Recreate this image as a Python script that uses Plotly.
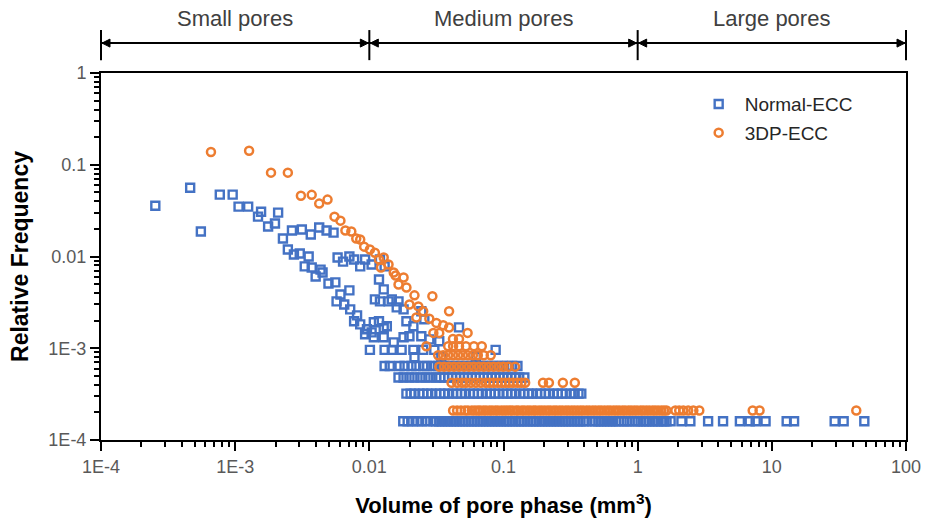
import numpy as np
import plotly.graph_objects as go

# ---------------- data ----------------
x_tick_vals = [1e-4, 1e-3, 1e-2, 1e-1, 1, 10, 100]
x_tick_text = ["1E-4", "1E-3", "0.01", "0.1", "1", "10", "100"]
y_tick_vals = [1e-4, 1e-3, 1e-2, 1e-1, 1]
y_tick_text = ["1E-4", "1E-3", "0.01", "0.1", "1"]

pore_class_names = ["Small pores", "Medium pores", "Large pores"]
pore_class_bounds = [1e-4, 1e-2, 1, 100]

# Normal-ECC, scattered points (volume mm^3, relative frequency)
normal_vol_scatter = [2.54e-4, 4.62e-4, 5.55e-4, 7.68e-4, 9.58e-4, 1.06e-3, 1.25e-3, 1.48e-3, 1.56e-3, 1.76e-3,
                      1.98e-3, 2.09e-3, 2.27e-3, 2.65e-3, 3.14e-3, 3.66e-3, 4.23e-3, 4.80e-3, 5.41e-3, 2.47e-3,
                      2.74e-3, 3.03e-3, 3.53e-3, 3.30e-3, 3.72e-3, 4.33e-3, 3.98e-3, 4.48e-3, 4.96e-3, 5.58e-3,
                      6.09e-3, 7.10e-3, 5.70e-3, 6.50e-3, 7.20e-3, 8.10e-3, 7.70e-3, 8.55e-3, 9.60e-3, 9.30e-3,
                      1.04e-2, 1.08e-2, 1.18e-2, 1.28e-2, 1.08e-2, 1.28e-2, 1.52e-2, 1.80e-2,
                      5.80e-3, 6.37e-3, 7.10e-3, 7.70e-3, 8.55e-3, 9.30e-3, 1.04e-2, 1.20e-2, 1.30e-2, 1.18e-2,
                      1.28e-2, 1.10e-2, 1.20e-2, 1.39e-2, 1.47e-2, 1.65e-2, 1.60e-2, 1.80e-2, 1.89e-2, 2.13e-2,
                      2.44e-2, 2.57e-2, 1.99e-2, 2.44e-2, 2.80e-2, 3.32e-2, 4.66e-2, 1.35e-2]
normal_freq_scatter = [0.0358, 0.0562, 0.0187, 0.0472, 0.0472, 0.035, 0.035, 0.0272, 0.0308, 0.0212,
                       0.0229, 0.0301, 0.0157, 0.0192, 0.0197, 0.0174, 0.0207, 0.0192, 0.0182, 0.0119,
                       0.0105, 0.0108, 0.0100, 7.8e-3, 7.6e-3, 7.2e-3, 6.06e-3, 6.7e-3, 5.08e-3, 5.22e-3,
                       3.86e-3, 4.27e-3, 3.24e-3, 3.0e-3, 2.65e-3, 2.28e-3, 1.97e-3, 1.82e-3, 1.61e-3, 1.42e-3,
                       1.49e-3, 1.92e-3, 1.97e-3, 1.65e-3, 1.32e-3, 1.32e-3, 1.16e-3, 1.32e-3,
                       9.77e-3, 8.8e-3, 1.0e-2, 9.28e-3, 7.8e-3, 9.28e-3, 8.19e-3, 9.28e-3, 7.8e-3, 5.62e-3,
                       4.38e-3, 3.41e-3, 3.24e-3, 3.24e-3, 3.41e-3, 3.24e-3, 2.79e-3, 2.65e-3, 1.97e-3, 1.74e-3,
                       2.53e-3, 2.07e-3, 1.35e-3, 1.35e-3, 1.25e-3, 1.19e-3, 1.69e-3, 1.74e-3]

# Normal-ECC, points lying on the lowest frequency levels
normal_level_freq = [1.6e-4, 3.2e-4, 4.8e-4, 6.4e-4, 8.0e-4, 9.6e-4]
normal_level_vol = [
    [0.0179, 0.0193, 0.021, 0.0228, 0.0248, 0.027, 0.030,
     0.0315, 0.0332, 0.0348, 0.0368, 0.0385, 0.0406, 0.0427, 0.0448, 0.0472, 0.0497, 0.0521, 0.0549,
     0.0578, 0.0606, 0.0639, 0.0671, 0.0706, 0.0744, 0.0781, 0.0823, 0.0865, 0.091, 0.0958, 0.101,
     0.106, 0.111, 0.117, 0.123, 0.130, 0.136, 0.143, 0.151, 0.159, 0.167, 0.175, 0.185, 0.194,
     0.204, 0.215, 0.226, 0.238, 0.250, 0.263, 0.277, 0.291, 0.306, 0.322, 0.339, 0.357, 0.375,
     0.395, 0.415, 0.46, 0.484, 0.509, 0.535, 0.563, 0.593, 0.624, 0.656, 0.69, 0.726, 0.79, 0.83,
     0.87, 0.95, 1.0, 1.05, 1.11, 1.16, 1.22, 1.29, 1.35, 1.42, 1.50, 1.58, 1.64,
     1.76, 2.12, 2.47, 3.35, 4.33, 5.78, 6.84, 7.58, 8.98, 12.9, 14.65, 29.4, 34.3, 48.9],
    [0.0189, 0.0203, 0.0217, 0.0236, 0.0252, 0.027, 0.029, 0.0315, 0.0338, 0.0361, 0.0387, 0.0421,
     0.0451, 0.0482, 0.0516, 0.0562, 0.0602, 0.0644, 0.0689, 0.075, 0.0803, 0.086, 0.092, 0.0998,
     0.107, 0.114, 0.122, 0.133, 0.143, 0.153, 0.163, 0.178, 0.19, 0.204, 0.218, 0.237, 0.254,
     0.272, 0.291, 0.317, 0.339, 0.362, 0.38],
    [0.0165, 0.018, 0.0199, 0.0217, 0.024, 0.0262, 0.0285, 0.0315, 0.0338, 0.0361, 0.0387, 0.0414,
     0.0443, 0.0474, 0.0508, 0.0543, 0.0581, 0.0622, 0.0666, 0.0713, 0.0763, 0.0816, 0.0874, 0.0936,
     0.100, 0.107, 0.114, 0.122, 0.131, 0.143],
    [0.013, 0.0142, 0.0168, 0.0183, 0.0206, 0.0224, 0.0252, 0.027, 0.030, 0.0326, 0.0355, 0.0387,
     0.0421, 0.0459, 0.0499, 0.0543, 0.0591, 0.0644, 0.0701, 0.0763, 0.083, 0.0905, 0.0985, 0.107,
     0.116, 0.127],
    [0.0217, 0.0344, 0.0622],
    [0.0101, 0.0130, 0.0147, 0.0174, 0.0213, 0.0252, 0.0305, 0.0874],
]

# 3DP-ECC, scattered points
print_vol_scatter = [6.6e-4, 1.27e-3, 1.85e-3, 2.47e-3, 3.09e-3, 3.72e-3, 4.23e-3, 4.88e-3, 5.5e-3, 6.09e-3,
                     6.63e-3, 7.34e-3, 7.99e-3, 8.55e-3, 9.15e-3, 1.01e-2, 1.10e-2, 1.18e-2, 1.28e-2, 1.39e-2,
                     1.22e-2, 1.52e-2, 1.57e-2, 1.80e-2, 1.65e-2, 1.89e-2, 2.17e-2, 2.95e-2, 1.99e-2, 2.32e-2,
                     2.52e-2, 3.93e-2, 2.24e-2, 2.80e-2, 3.16e-2, 3.55e-2, 3.93e-2, 5.40e-2, 3.0e-2, 3.32e-2,
                     4.2e-2, 4.66e-2]
print_freq_scatter = [0.138, 0.142, 0.082, 0.082, 0.046, 0.047, 0.0377, 0.0417, 0.0272, 0.0246,
                      0.0192, 0.0187, 0.0157, 0.0153, 0.0128, 0.0119, 0.0110, 9.28e-3, 9.77e-3, 8.19e-3,
                      7.6e-3, 6.7e-3, 6.2e-3, 5.9e-3, 4.96e-3, 4.6e-3, 3.77e-3, 3.68e-3, 3.0e-3, 2.86e-3,
                      2.53e-3, 2.53e-3, 2.17e-3, 2.1e-3, 1.89e-3, 1.78e-3, 1.68e-3, 1.47e-3, 1.47e-3, 1.47e-3,
                      1.26e-3, 1.26e-3]

# 3DP-ECC, points lying on the lowest frequency levels
print_level_freq = [2.1e-4, 4.2e-4, 6.3e-4, 8.4e-4, 1.05e-3]
print_level_vol = [
    [0.0421, 0.0451, 0.0482, 0.0516, 0.0543, 0.0581, 0.0612, 0.0644, 0.0671, 0.0709, 0.0742, 0.0785,
     0.0822, 0.0869, 0.0908, 0.0962, 0.101, 0.106, 0.112, 0.117, 0.124, 0.129, 0.137, 0.143, 0.151,
     0.158, 0.167, 0.174, 0.184, 0.193, 0.203, 0.214, 0.224, 0.237, 0.248, 0.262, 0.275, 0.291, 0.305,
     0.322, 0.338, 0.356, 0.375, 0.393, 0.416, 0.437, 0.462, 0.485, 0.512, 0.536, 0.566, 0.597, 0.625,
     0.661, 0.694, 0.728, 0.770, 0.806, 0.853, 0.894, 0.943, 0.99, 1.05, 1.10, 1.16, 1.22, 1.29, 1.35,
     1.42, 1.50, 1.57, 1.64, 1.91, 2.04, 2.19, 2.38, 2.6, 2.88, 7.2, 8.1, 42.6],
    [0.041, 0.0451, 0.049, 0.0525, 0.0572, 0.0622, 0.0678, 0.0738, 0.079, 0.0845, 0.0905, 0.0968,
     0.103, 0.110, 0.118, 0.127, 0.136, 0.145, 0.197, 0.218, 0.277, 0.34],
    [0.0332, 0.0361, 0.0393, 0.0428, 0.0466, 0.0508, 0.0553, 0.0602, 0.0655, 0.0713, 0.0776, 0.0845,
     0.092, 0.0998, 0.109, 0.122],
    [0.0326, 0.0355, 0.0387, 0.0421, 0.0459, 0.0499, 0.0543, 0.0591, 0.0644, 0.0713, 0.0803],
    [0.0266, 0.0387, 0.0421, 0.0466, 0.0525, 0.0602, 0.0689],
]

series_names = ["Normal-ECC", "3DP-ECC"]
series_colors = ["#4472C4", "#ED7D31"]

# ---------------- build series ----------------
def combine(vol_scatter, freq_scatter, level_freq, level_vol):
    xs = list(vol_scatter)
    ys = list(freq_scatter)
    for f, vols in zip(level_freq, level_vol):
        xs += vols
        ys += [f] * len(vols)
    return xs, ys

normal_x, normal_y = combine(normal_vol_scatter, normal_freq_scatter, normal_level_freq, normal_level_vol)
print_x, print_y = combine(print_vol_scatter, print_freq_scatter, print_level_freq, print_level_vol)

FONT = "Liberation Sans, Arial, sans-serif"

fig = go.Figure()
fig.add_trace(go.Scatter(
    x=normal_x, y=normal_y, mode="markers", name=series_names[0], legendgroup="a",
    marker=dict(symbol="square-open", size=8, color=series_colors[0],
                line=dict(width=2.4, color=series_colors[0])),
))
fig.add_trace(go.Scatter(
    x=print_x, y=print_y, mode="markers", name=series_names[1], legendgroup="b",
    marker=dict(symbol="circle-open", size=8, color=series_colors[1],
                line=dict(width=2.5, color=series_colors[1])),
))

x_lo, x_hi = np.log10(x_tick_vals[0]), np.log10(x_tick_vals[-1])
x_minor = [m * 10.0 ** e for e in range(int(x_lo), int(x_hi)) for m in range(2, 10)]
y_lo, y_hi = np.log10(y_tick_vals[0]), np.log10(y_tick_vals[-1])
y_minor = [m * 10.0 ** e for e in range(int(y_lo), int(y_hi)) for m in range(2, 10)]

axis_common = dict(
    showline=True, linecolor="black", linewidth=2, mirror=True,
    ticks="outside", ticklen=9, tickwidth=2, tickcolor="black",
    showgrid=False, zeroline=False,
    tickfont=dict(family=FONT, size=18, color="#595959"),
)

fig.update_xaxes(
    type="log", range=[x_lo, x_hi], tickmode="array", tickvals=x_tick_vals, ticktext=x_tick_text,
    minor=dict(tickmode="array", tickvals=x_minor, ticks="outside", ticklen=5, tickwidth=1.5,
               tickcolor="black", showgrid=False),
    title=dict(text="Volume of pore phase (mm<sup>3</sup>)", standoff=22,
               font=dict(family=FONT, size=22, color="black", weight="bold")),
    **axis_common,
)
fig.update_yaxes(
    type="log", range=[y_lo, y_hi], tickmode="array", tickvals=y_tick_vals, ticktext=y_tick_text,
    minor=dict(tickmode="array", tickvals=y_minor, ticks="outside", ticklen=5, tickwidth=1.5,
               tickcolor="black", showgrid=False),
    title=dict(text="Relative Frequency", standoff=13,
               font=dict(family=FONT, size=23, color="black", weight="bold")),
    **axis_common,
)

# pore-size class brackets above the plot (dimension lines with arrowheads)
bracket_y = 1.0815
bar_lo, bar_hi = 1.035, 1.117
label_y = 1.1495
bracket_line = dict(color="black", width=2)
for i, name in enumerate(pore_class_names):
    a, b = pore_class_bounds[i], pore_class_bounds[i + 1]
    pa = (np.log10(a) - x_lo) / (x_hi - x_lo)
    pb = (np.log10(b) - x_lo) / (x_hi - x_lo)
    fig.add_shape(type="line", xref="paper", yref="paper", x0=pa, x1=pb, y0=bracket_y, y1=bracket_y,
                  line=bracket_line)
    fig.add_shape(type="path", xref="paper", yref="paper", xsizemode="pixel", ysizemode="pixel",
                  xanchor=pa, yanchor=bracket_y, path="M1,0 L9,4 L9,-4 Z",
                  fillcolor="black", line=dict(color="black", width=1))
    fig.add_shape(type="path", xref="paper", yref="paper", xsizemode="pixel", ysizemode="pixel",
                  xanchor=pb, yanchor=bracket_y, path="M-1,0 L-9,4 L-9,-4 Z",
                  fillcolor="black", line=dict(color="black", width=1))
    fig.add_annotation(
        x=(np.log10(a) + np.log10(b)) / 2, y=label_y, xref="x", yref="paper",
        xanchor="center", yanchor="middle",
        text=name, showarrow=False,
        font=dict(family=FONT, size=22, color="#404040"),
    )
for bnd in pore_class_bounds:
    px = (np.log10(bnd) - x_lo) / (x_hi - x_lo)
    fig.add_shape(type="line", xref="paper", yref="paper", x0=px, x1=px, y0=bar_lo, y1=bar_hi,
                  line=bracket_line)

fig.update_layout(
    width=933, height=526,
    margin=dict(l=101, r=18, t=73, b=85),
    paper_bgcolor="white", plot_bgcolor="white",
    font=dict(family=FONT),
    showlegend=True,
    legend=dict(x=0.735, y=0.967, xanchor="left", yanchor="top",
                traceorder="grouped", tracegroupgap=1,
                font=dict(family=FONT, size=19, color="#262626"),
                bgcolor="rgba(0,0,0,0)", itemwidth=42),
)

fig.write_html("out.html")
